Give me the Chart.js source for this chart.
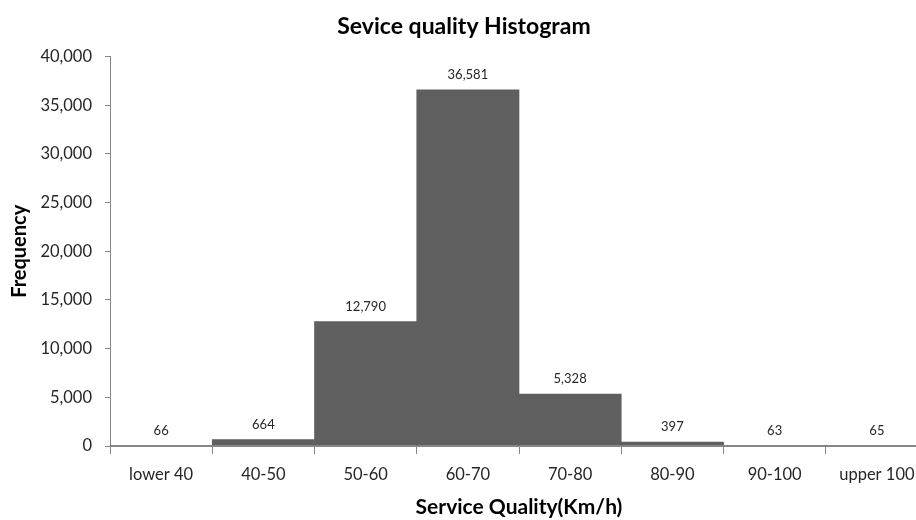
<!DOCTYPE html>
<html>
<head>
<meta charset="utf-8">
<script src="https://cdn.jsdelivr.net/npm/chart.js@4.4.0/dist/chart.umd.min.js"></script>
<style>
  html, body { margin: 0; padding: 0; background: #fff; overflow: hidden; }
</style>
</head>
<body>
<canvas id="ch1" width="928" height="520"></canvas>
<script>
// histogram bins and counts
const categories = ['lower 40', '40-50', '50-60', '60-70', '70-80', '80-90', '90-100', 'upper 100'];
const frequency = [66, 664, 12790, 36581, 5328, 397, 63, 65];
const yMin = 0;
const yMax = 40000;
const yStep = 5000;

const fontFamily = 'Lato, "Open Sans", sans-serif';
const axisGray = '#868686';

// value labels above each bar
const barLabels = {
  id: 'barLabels',
  afterDatasetsDraw(chart) {
    const ctx = chart.ctx;
    const meta = chart.getDatasetMeta(0);
    ctx.save();
    ctx.font = '13px ' + fontFamily;
    ctx.fillStyle = '#262626';
    ctx.textAlign = 'center';
    ctx.textBaseline = 'middle';
    meta.data.forEach((bar, i) => {
      ctx.fillText(frequency[i].toLocaleString('en-US'), bar.x, bar.y - 15);
    });
    ctx.restore();
  }
};

var ctx = document.getElementById('ch1').getContext('2d');

var histChart = new Chart(ctx, {
  type: 'bar',
  data: {
    labels: categories,
    datasets: [{
      data: frequency,
      backgroundColor: '#5f5f5f',
      borderWidth: 0,
      barPercentage: 1,
      categoryPercentage: 1
    }]
  },
  options: {
    responsive: false,
    animation: false,
    layout: { padding: { left: 0, right: 0, top: 0, bottom: 0 } },
    plugins: {
      legend: { display: false },
      tooltip: { enabled: false },
      title: {
        display: true,
        text: 'Sevice quality Histogram',
        color: '#000',
        font: { family: fontFamily, size: 23, weight: 'bold', lineHeight: 1.2 },
        padding: { top: 13, bottom: 16 }
      }
    },
    scales: {
      x: {
        grid: {
          display: true,
          offset: true,
          drawOnChartArea: false,
          drawTicks: true,
          tickLength: 8,
          color: axisGray
        },
        border: { display: true, color: axisGray, width: 1 },
        ticks: {
          color: '#262626',
          font: { family: fontFamily, size: 16.5 },
          padding: 11,
          maxRotation: 0
        },
        title: {
          display: true,
          text: 'Service Quality(Km/h)',
          color: '#000',
          font: { family: fontFamily, size: 21, weight: 'bold', lineHeight: 1.2 },
          padding: 0
        },
        afterFit(scale) { scale.height = 74; }
      },
      y: {
        min: yMin,
        max: yMax,
        grid: {
          display: true,
          drawOnChartArea: false,
          drawTicks: true,
          tickLength: 5,
          color: axisGray
        },
        border: { display: true, color: axisGray, width: 1 },
        ticks: {
          stepSize: yStep,
          color: '#262626',
          font: { family: fontFamily, size: 16.5 },
          padding: 13,
          callback: v => v.toLocaleString('en-US')
        },
        title: {
          display: true,
          text: 'Frequency',
          color: '#000',
          font: { family: fontFamily, size: 20, weight: 'bold', lineHeight: 1.2 },
          padding: { top: 8, bottom: 0 }
        },
        afterFit(scale) { scale.width = 110; }
      }
    }
  },
  plugins: [barLabels]
});
</script>
</body>
</html>
